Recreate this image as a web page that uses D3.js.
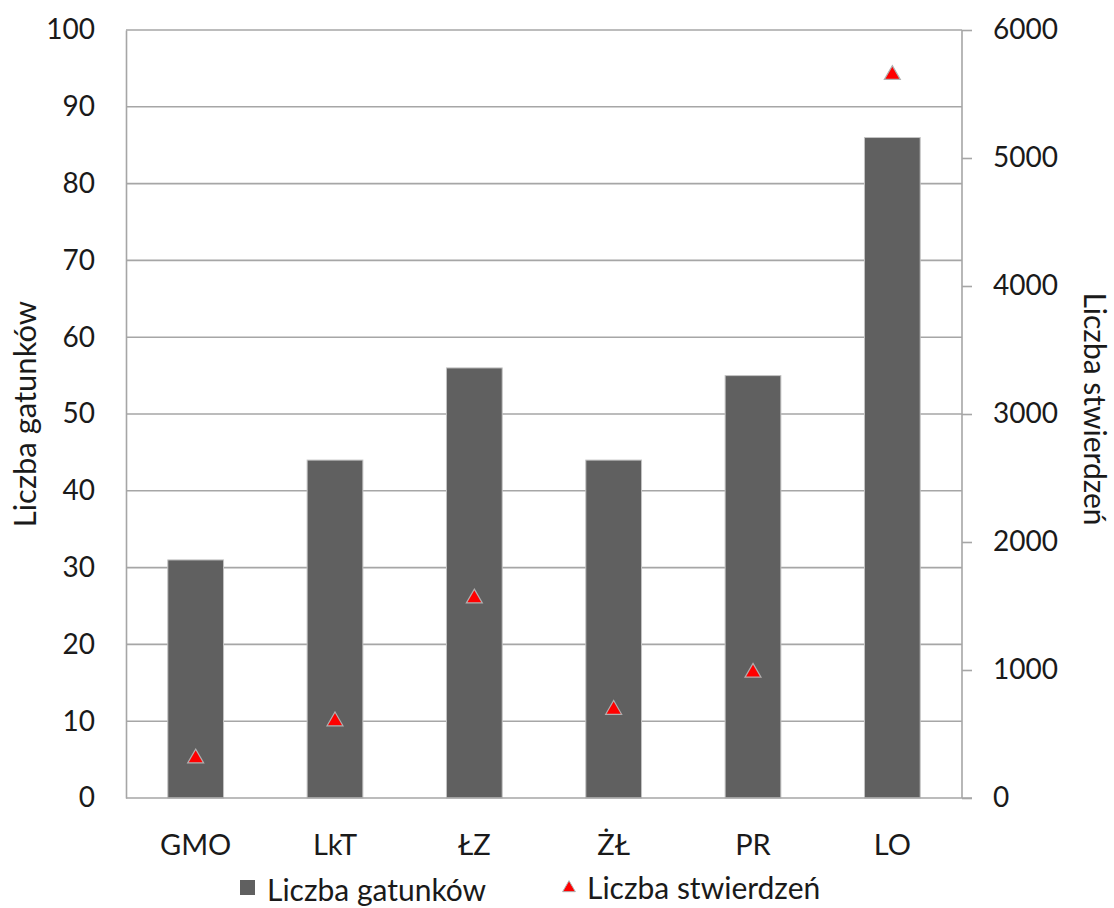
<!DOCTYPE html>
<html>
<head>
<meta charset="utf-8">
<script src="https://cdn.jsdelivr.net/npm/d3@7"></script>
<style>
  html, body { margin: 0; padding: 0; background: #fff; }
  svg { display: block; font-family: Lato, "Open Sans", sans-serif; }
</style>
</head>
<body>
<svg id="chart" width="1114" height="908"></svg>
<script>
// Sampling sites and the two measured series
const categories = ["GMO", "LkT", "ŁZ", "ŻŁ", "PR", "LO"];
const speciesCount = [31, 44, 56, 44, 55, 86];          // Liczba gatunków (left axis)
const recordCount = [310, 600, 1560, 690, 980, 5650];   // Liczba stwierdzeń (right axis)
const leftTicks = [0, 10, 20, 30, 40, 50, 60, 70, 80, 90, 100];
const rightTicks = [0, 1000, 2000, 3000, 4000, 5000, 6000];

const svg = d3.select("#chart");
const plot = { left: 126, right: 962, top: 30, bottom: 798 };
const gridColor = "#a6a6a6";
const textColor = "#1a1a1a";
const barColor = "#606060";
const font = "Lato, 'Open Sans', sans-serif";

const x = d3.scaleBand().domain(categories).range([plot.left, plot.right]).paddingInner(0.6).paddingOuter(0.3);
const yL = d3.scaleLinear().domain([0, 100]).range([plot.bottom, plot.top]);
const yR = d3.scaleLinear().domain([0, 6000]).range([plot.bottom, plot.top]);

// horizontal gridlines
svg.append("g").selectAll("line").data(leftTicks.filter(d => d > 0)).join("line")
  .attr("x1", plot.left).attr("x2", plot.right)
  .attr("y1", d => yL(d)).attr("y2", d => yL(d))
  .attr("stroke", gridColor).attr("stroke-width", 1.6);

// left axis (labels only, plus the vertical line)
const gL = svg.append("g").attr("transform", `translate(${plot.left},0)`)
  .call(d3.axisLeft(yL).tickValues(leftTicks).tickSize(0).tickPadding(31));
gL.select(".domain").attr("stroke", gridColor).attr("stroke-width", 1.6);
gL.selectAll("text").attr("fill", textColor).style("font-size", "28px").style("font-family", font);

// right axis
const gR = svg.append("g").attr("transform", `translate(${plot.right},0)`)
  .call(d3.axisRight(yR).tickValues(rightTicks).tickFormat(d3.format("d")).tickSize(10).tickPadding(21));
gR.select(".domain").attr("stroke", gridColor).attr("stroke-width", 1.6).attr("d", `M0,${plot.top}V${plot.bottom}`);
gR.selectAll(".tick line").attr("stroke", gridColor).attr("stroke-width", 1.6);
gR.selectAll("text").attr("fill", textColor).style("font-size", "28px").style("font-family", font);

// bars
svg.append("g").selectAll("rect").data(categories).join("rect")
  .attr("x", d => x(d)).attr("width", x.bandwidth())
  .attr("y", (d, i) => yL(speciesCount[i]))
  .attr("height", (d, i) => plot.bottom - yL(speciesCount[i]))
  .attr("fill", barColor).attr("stroke", "#c4c4c4").attr("stroke-width", 1);

// bottom axis line, reaching the right tick marks
svg.append("line")
  .attr("x1", plot.left).attr("x2", plot.right + 10)
  .attr("y1", plot.bottom).attr("y2", plot.bottom)
  .attr("stroke", gridColor).attr("stroke-width", 1.6);

// category labels
svg.append("g").selectAll("text").data(categories).join("text")
  .attr("x", d => x(d) + x.bandwidth() / 2).attr("y", 855)
  .attr("text-anchor", "middle").attr("fill", textColor)
  .style("font-size", "29px").text(d => d);

// triangle markers for record counts
const tri = d3.symbol().type(d3.symbolTriangle).size(110);
svg.append("g").selectAll("path").data(categories).join("path")
  .attr("d", tri)
  .attr("transform", (d, i) => `translate(${x(d) + x.bandwidth() / 2},${yR(recordCount[i])})`)
  .attr("fill", "#ff0000").attr("stroke", "#b0b0b0").attr("stroke-width", 1.2);

// axis titles
svg.append("text")
  .attr("transform", `translate(36,414) rotate(-90)`)
  .attr("text-anchor", "middle").attr("fill", textColor)
  .style("font-size", "31px").text("Liczba gatunków");
svg.append("text")
  .attr("transform", `translate(1084,409) rotate(90)`)
  .attr("text-anchor", "middle").attr("fill", textColor)
  .style("font-size", "30px").text("Liczba stwierdzeń");

// legend
const legend = svg.append("g");
legend.append("rect").attr("x", 240).attr("y", 880).attr("width", 15).attr("height", 15).attr("fill", barColor);
legend.append("text").attr("x", 267).attr("y", 901).attr("fill", textColor).style("font-size", "30px").text("Liczba gatunków");
legend.append("path").attr("d", d3.symbol().type(d3.symbolTriangle).size(70))
  .attr("transform", "translate(569,888)")
  .attr("fill", "#ff0000").attr("stroke", "#b0b0b0").attr("stroke-width", 1);
legend.append("text").attr("x", 587).attr("y", 899).attr("fill", textColor).style("font-size", "30px").text("Liczba stwierdzeń");
</script>
</body>
</html>
